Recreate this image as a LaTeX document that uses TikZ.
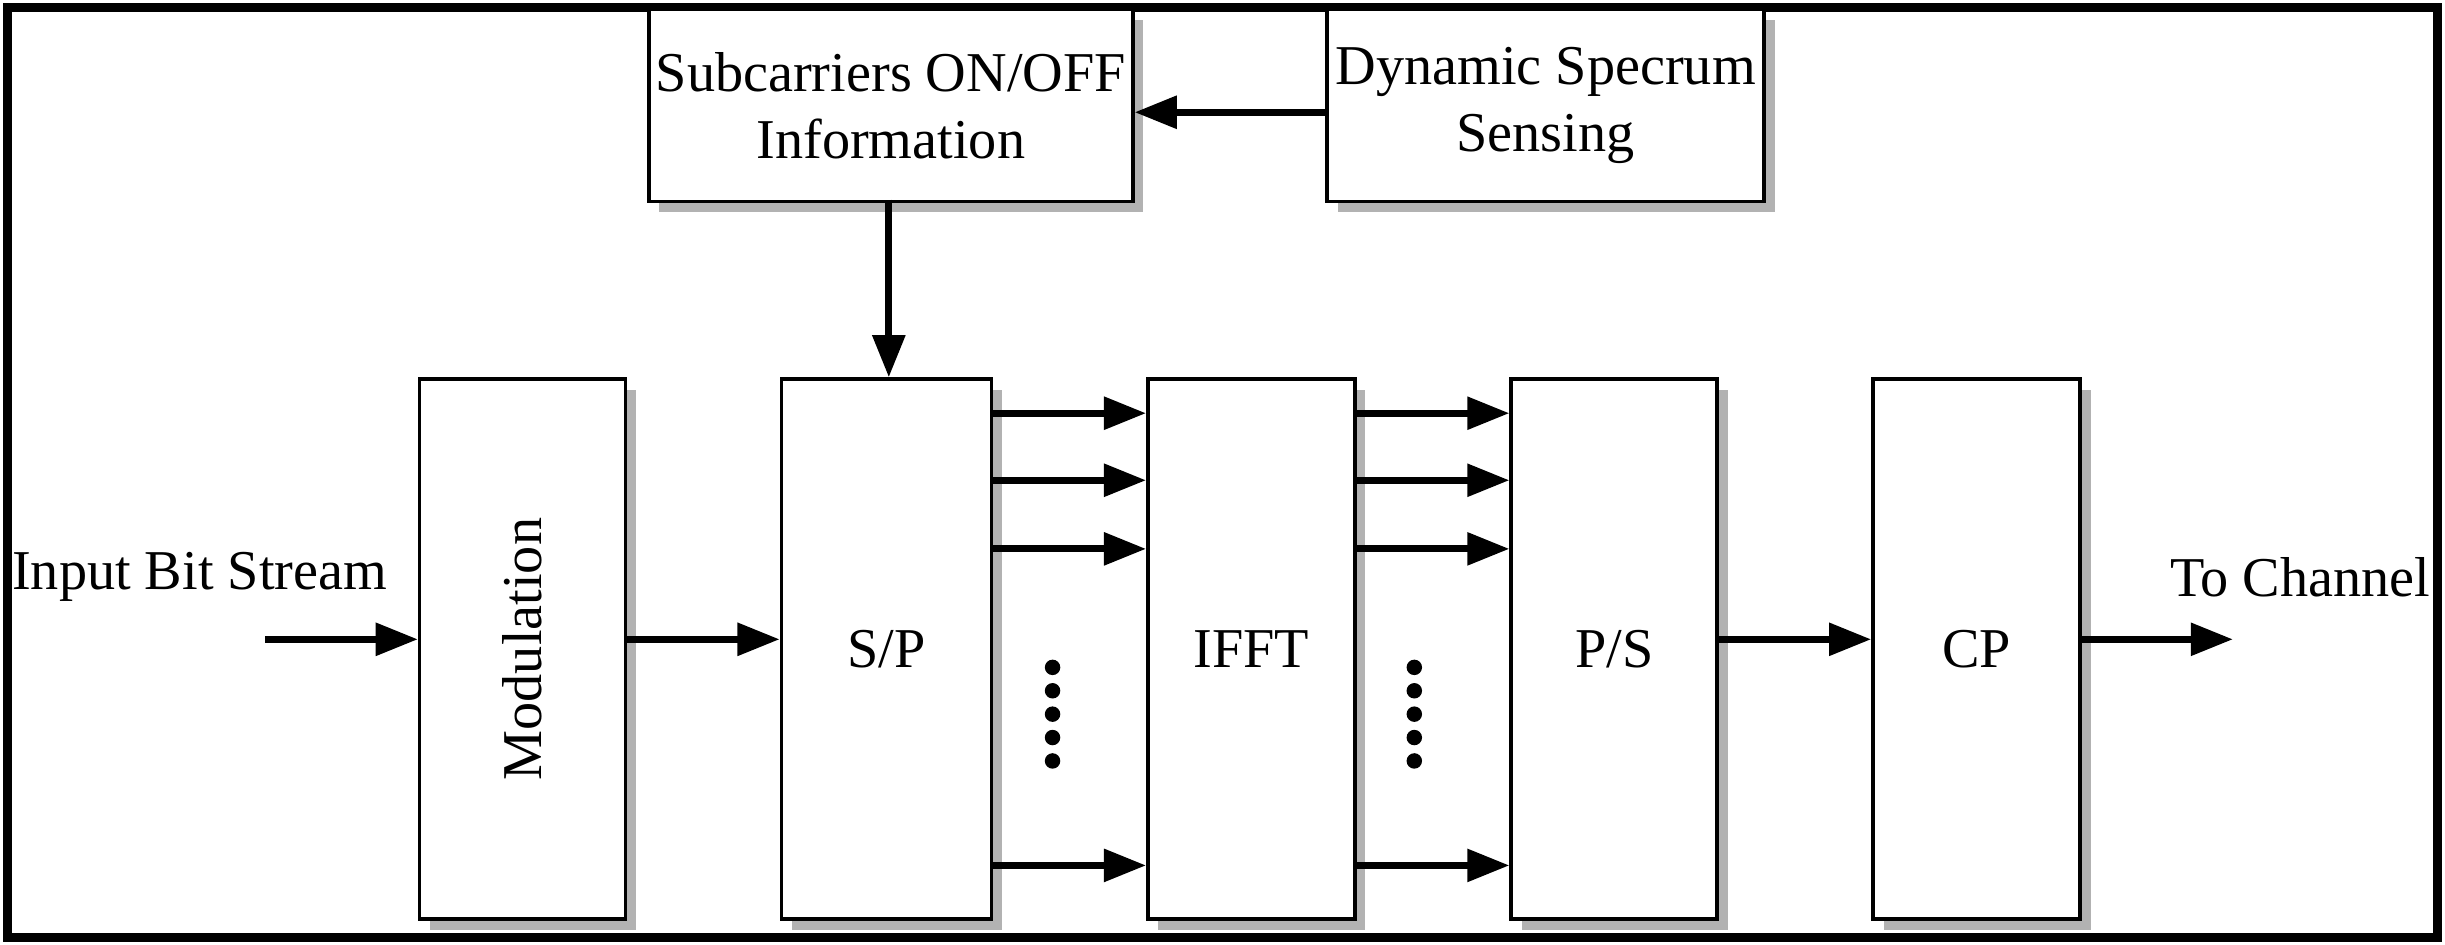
\documentclass[tikz,border=0pt]{standalone}
\usepackage{fontspec}
\setmainfont{Liberation Serif}
\usetikzlibrary{arrows.meta,shadows}
\begin{document}
\begin{tikzpicture}[x=0.0156cm,y=-0.0156cm,
  box/.style={draw=black,line width=1pt,fill=white,drop shadow={shadow xshift=3pt,shadow yshift=-3pt,fill=gray!60,opacity=1},align=center,font=\fontsize{16}{19}\selectfont,anchor=north west,inner sep=0pt},
  arr/.style={-{Triangle[length=12pt,width=9pt]},line width=2pt},
  lab/.style={font=\fontsize{16}{19}\selectfont}]
\useasboundingbox (0,0) rectangle (1568,606);
\draw[line width=2.5pt] (5,5) rectangle (1563,601);
\node[box,minimum width=4.84cm,minimum height=1.92cm] (sub) at (415,5) {Subcarriers ON/OFF\\Information};
\node[box,minimum width=4.37cm,minimum height=1.92cm] (dyn) at (850,5) {Dynamic Specrum\\Sensing};
\node[box,minimum width=2.06cm,minimum height=5.4cm] (mod) at (268,242) {\rotatebox{90}{Modulation}};
\node[box,minimum width=2.1cm,minimum height=5.4cm] (sp) at (500,242) {S/P};
\node[box,minimum width=2.07cm,minimum height=5.4cm] (ifft) at (735,242) {IFFT};
\node[box,minimum width=2.06cm,minimum height=5.4cm] (ps) at (968,242) {P/S};
\node[box,minimum width=2.07cm,minimum height=5.4cm] (cp) at (1200,242) {CP};
\node[lab] (in) at (128,370) {Input Bit Stream};
\node[lab] (out) at (1475,370) {To Channel};
\coordinate (ins) at (170,410);
\coordinate (oute) at (1432,410);
\draw[arr] (dyn.west |- 0,72) -- (sub.east |- 0,72);
\draw[arr] (570,128) -- (570,242);
\draw[arr] (ins) -- (mod.west |- ins);
\draw[arr] (mod.east |- ins) -- (sp.west |- ins);
\draw[arr] (ps.east |- ins) -- (cp.west |- ins);
\draw[arr] (cp.east |- ins) -- (oute);
\foreach \y in {265,308,352,555} {
  \draw[arr] (sp.east |- 0,\y) -- (ifft.west |- 0,\y);
  \draw[arr] (ifft.east |- 0,\y) -- (ps.west |- 0,\y);
}
\foreach \x in {675,907} \foreach \y in {428,443,458,473,488}
  \fill (\x,\y) circle (2.2pt);
\end{tikzpicture}
\end{document}
